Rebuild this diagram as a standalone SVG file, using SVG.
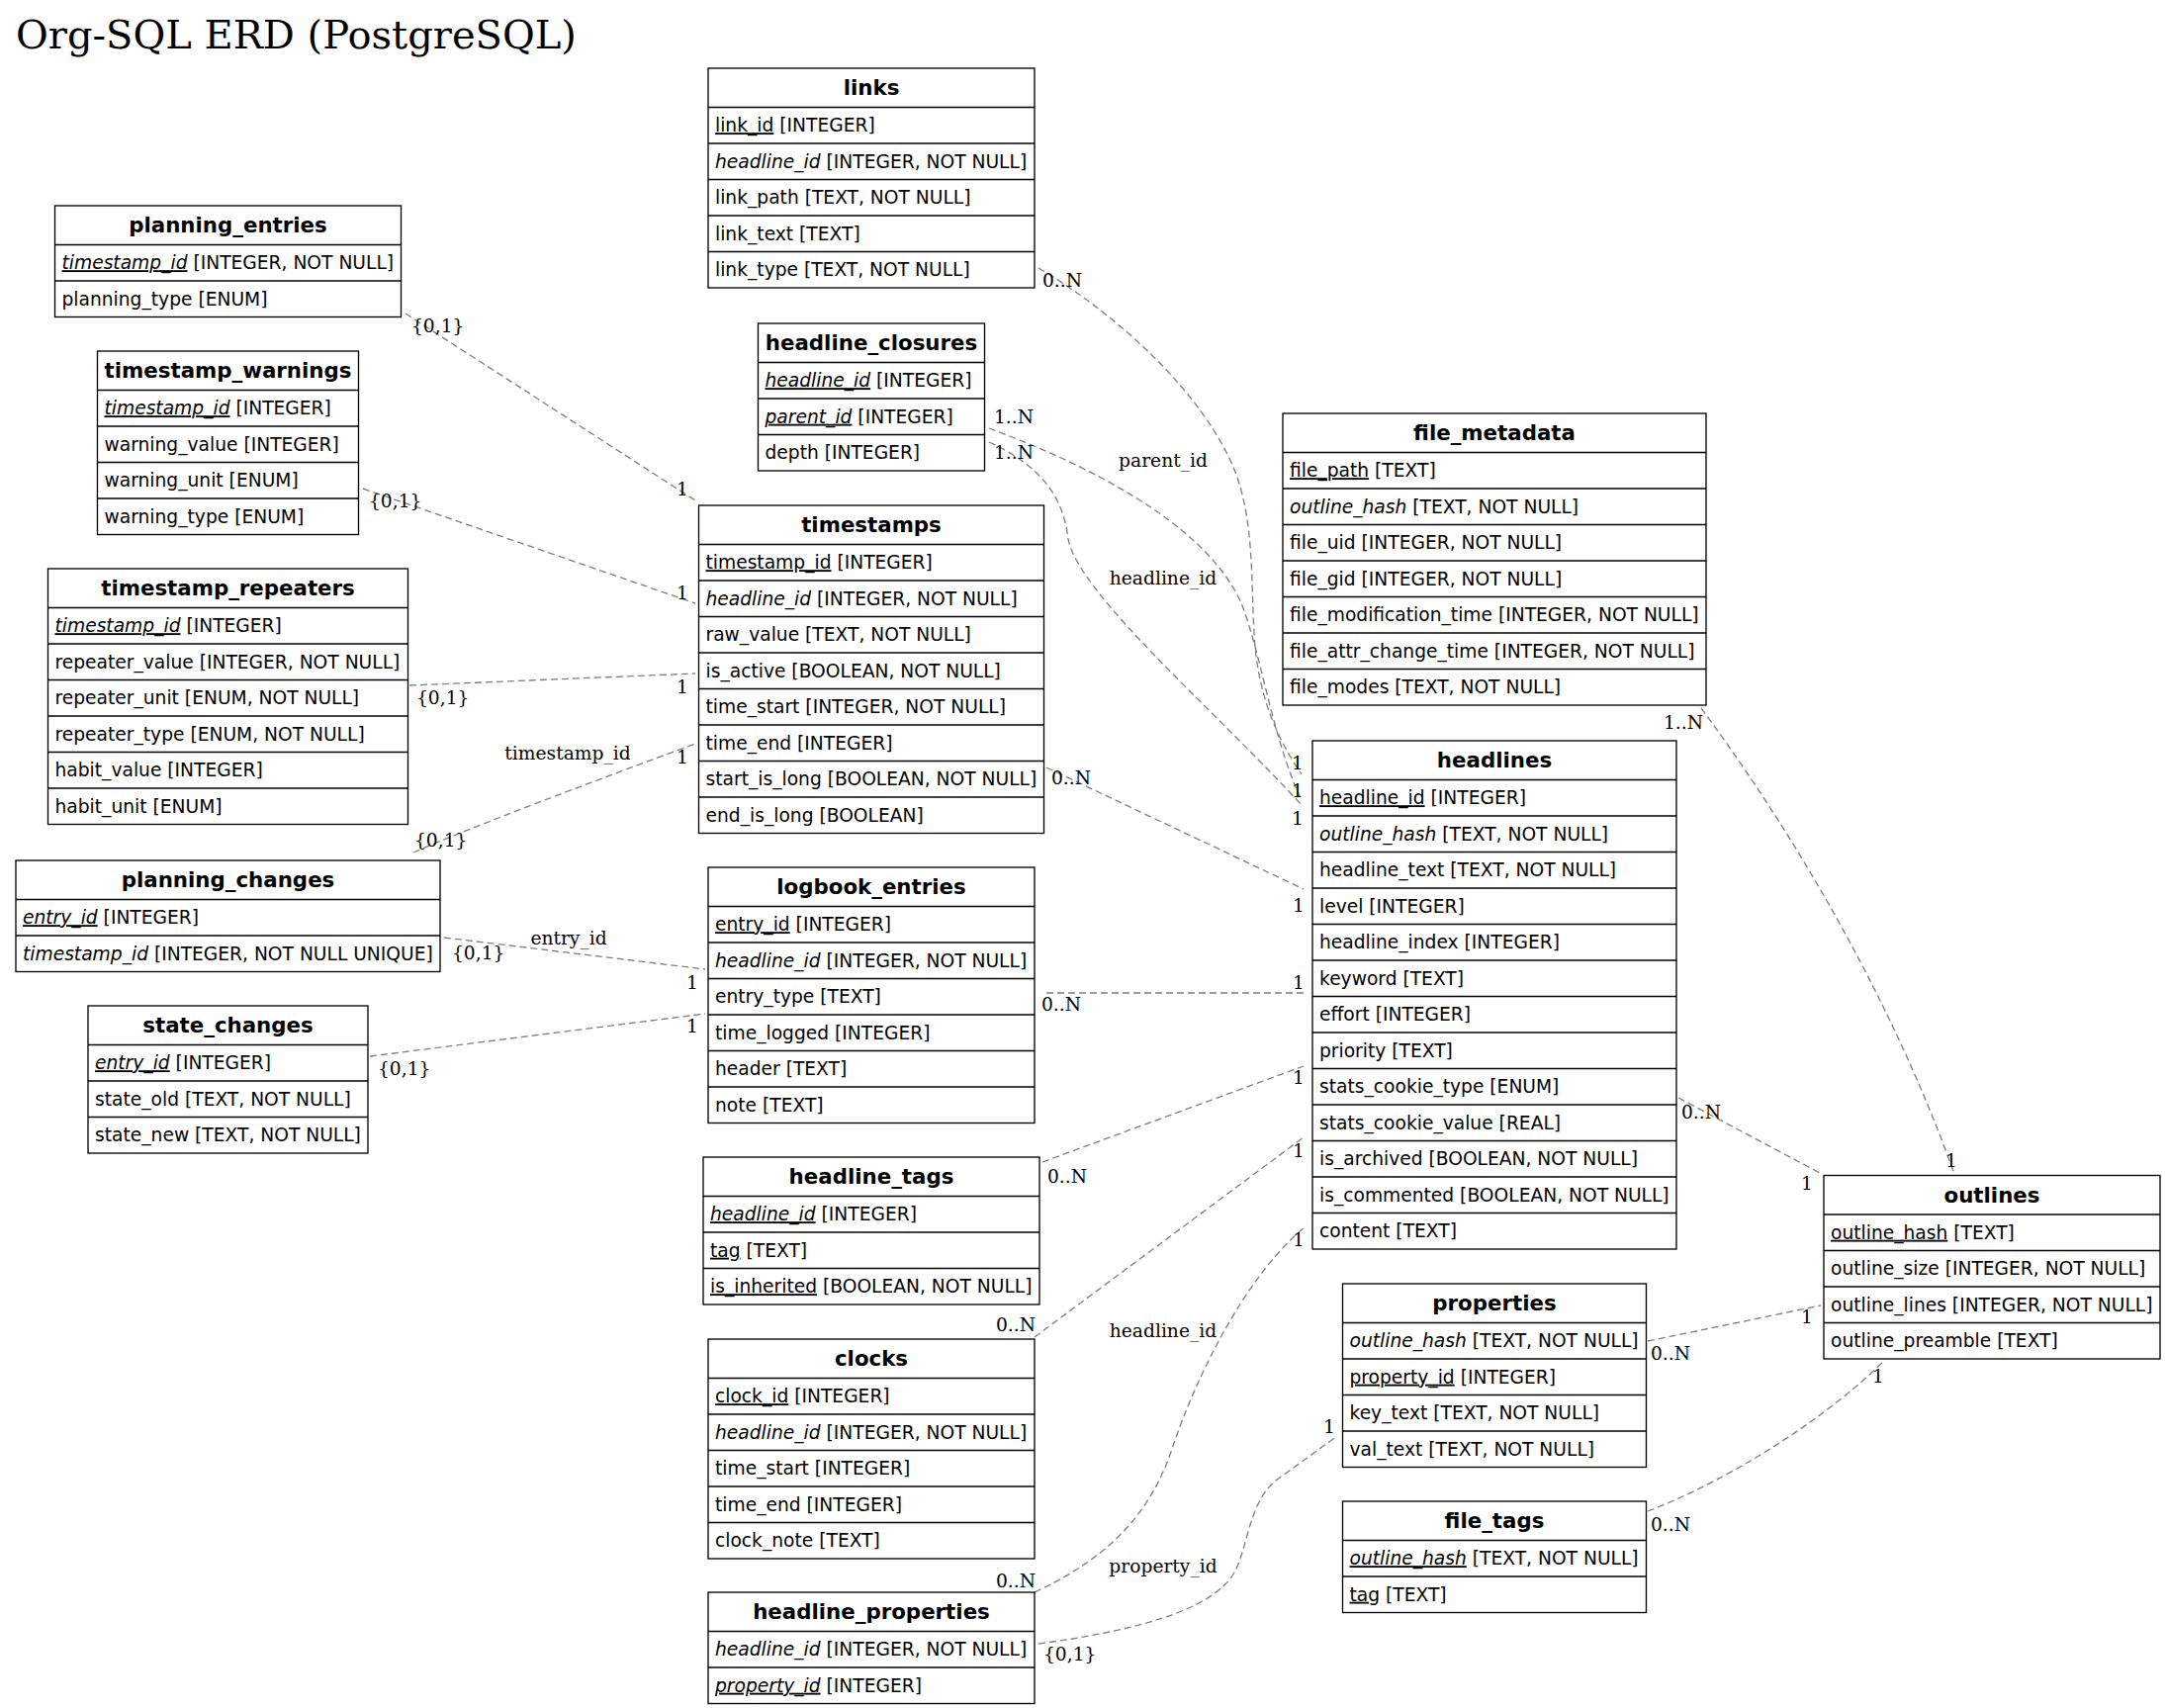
<svg xmlns="http://www.w3.org/2000/svg" width="2189" height="1727" viewBox="0 0 2189 1727">
<style>
.tb rect{fill:#fff;stroke:#000;stroke-width:1.33}
.tb line{stroke:#000;stroke-width:1.33}
.hd{font-family:"DejaVu Sans",sans-serif;font-weight:bold;font-size:21.33px;text-anchor:middle;fill:#000}
.fd{font-family:"DejaVu Sans",sans-serif;font-size:18.67px;fill:#000}
.i{font-style:italic}
.u{text-decoration:underline}
.ed path{fill:none;stroke:#808080;stroke-width:1.33;stroke-dasharray:7,4}
.lb{font-family:"DejaVu Serif",serif;font-size:18.67px;fill:#000}
.c{text-anchor:middle}
.title{font-family:"DejaVu Serif",serif;font-size:40px;fill:#000}
</style>
<rect width="2189" height="1727" fill="#fff"/>
<text class="title" x="16" y="49">Org-SQL ERD (PostgreSQL)</text>

<g id="connectors" class="ed">
<path d="M410,317 L703,506"/>
<path d="M367,494 L703,610"/>
<path d="M414,693 L703,681"/>
<path d="M418,862 C480,835 600,790 703,752"/>
<path d="M449,948 L713,980"/>
<path d="M374,1068 L713,1025"/>
<path d="M1050,271 C1130,318 1220,400 1250,480 C1268,530 1265,590 1268,640 C1271,700 1290,745 1316,783"/>
<path d="M1000,433 C1100,470 1220,530 1255,610 C1275,660 1285,740 1314,805"/>
<path d="M1000,447 C1050,470 1075,500 1080,545 C1090,600 1230,720 1317,815"/>
<path d="M1058,776 L1318,899"/>
<path d="M1058,1004 L1318,1004"/>
<path d="M1054,1175 L1318,1078"/>
<path d="M1046,1352 L1318,1150"/>
<path d="M1046,1610 C1110,1580 1160,1540 1185,1465 C1210,1390 1260,1290 1318,1242"/>
<path d="M1050,1662 C1140,1650 1225,1630 1248,1590 C1262,1565 1262,1520 1290,1497 L1352,1452"/>
<path d="M1720,716 C1820,851 1916,1019 1976,1187"/>
<path d="M1697,1110 L1840,1186"/>
<path d="M1666,1356 L1841,1320"/>
<path d="M1666,1528 C1740,1500 1840,1440 1905,1376"/>
</g>

<g id="edge-labels">
<text class="lb" x="416" y="336">{0,1}</text>
<text class="lb" x="684" y="501">1</text>
<text class="lb" x="373" y="513">{0,1}</text>
<text class="lb" x="684" y="606">1</text>
<text class="lb" x="421" y="712">{0,1}</text>
<text class="lb" x="684" y="701">1</text>
<text class="lb c" x="574" y="768">timestamp_id</text>
<text class="lb" x="419" y="856">{0,1}</text>
<text class="lb" x="684" y="772">1</text>
<text class="lb c" x="575" y="955">entry_id</text>
<text class="lb" x="457" y="970">{0,1}</text>
<text class="lb" x="694" y="1000">1</text>
<text class="lb" x="382" y="1087">{0,1}</text>
<text class="lb" x="694" y="1044">1</text>
<text class="lb" x="1054" y="290">0..N</text>
<text class="lb" x="1306" y="778">1</text>
<text class="lb c" x="1176" y="472">parent_id</text>
<text class="lb" x="1005" y="428">1..N</text>
<text class="lb" x="1306" y="806">1</text>
<text class="lb c" x="1176" y="591">headline_id</text>
<text class="lb" x="1005" y="464">1..N</text>
<text class="lb" x="1306" y="834">1</text>
<text class="lb" x="1063" y="793">0..N</text>
<text class="lb" x="1307" y="922">1</text>
<text class="lb" x="1053" y="1022">0..N</text>
<text class="lb" x="1307" y="1000">1</text>
<text class="lb" x="1059" y="1196">0..N</text>
<text class="lb" x="1307" y="1096">1</text>
<text class="lb" x="1007" y="1346">0..N</text>
<text class="lb" x="1307" y="1170">1</text>
<text class="lb c" x="1176" y="1352">headline_id</text>
<text class="lb" x="1007" y="1605">0..N</text>
<text class="lb" x="1307" y="1260">1</text>
<text class="lb c" x="1176" y="1590">property_id</text>
<text class="lb" x="1055" y="1679">{0,1}</text>
<text class="lb" x="1338" y="1449">1</text>
<text class="lb" x="1682" y="737">1..N</text>
<text class="lb" x="1967" y="1180">1</text>
<text class="lb" x="1700" y="1131">0..N</text>
<text class="lb" x="1821" y="1203">1</text>
<text class="lb" x="1669" y="1375">0..N</text>
<text class="lb" x="1821" y="1338">1</text>
<text class="lb" x="1669" y="1548">0..N</text>
<text class="lb" x="1893" y="1398">1</text>
</g>

<g id="planning_entries" class="tb" transform="translate(55.5,208)">
<rect width="350" height="112.5"/>
<line x1="0" y1="39.5" x2="350" y2="39.5"/><line x1="0" y1="76" x2="350" y2="76"/>
<text class="hd" x="175" y="27.2">planning_entries</text>
<text class="fd" x="7" y="64.2"><tspan class="i u">timestamp_id</tspan> [INTEGER, NOT NULL]</text>
<text class="fd" x="7" y="100.7">planning_type [ENUM]</text>
</g>

<g id="timestamp_warnings" class="tb" transform="translate(98.5,355)">
<rect width="264" height="185.5"/>
<line x1="0" y1="39.5" x2="264" y2="39.5"/><line x1="0" y1="76" x2="264" y2="76"/><line x1="0" y1="112.5" x2="264" y2="112.5"/><line x1="0" y1="149" x2="264" y2="149"/>
<text class="hd" x="132" y="27.2">timestamp_warnings</text>
<text class="fd" x="7" y="64.2"><tspan class="i u">timestamp_id</tspan> [INTEGER]</text>
<text class="fd" x="7" y="100.7">warning_value [INTEGER]</text>
<text class="fd" x="7" y="137.2">warning_unit [ENUM]</text>
<text class="fd" x="7" y="173.7">warning_type [ENUM]</text>
</g>

<g id="timestamp_repeaters" class="tb" transform="translate(48.5,575)">
<rect width="364" height="258.5"/>
<line x1="0" y1="39.5" x2="364" y2="39.5"/><line x1="0" y1="76" x2="364" y2="76"/><line x1="0" y1="112.5" x2="364" y2="112.5"/><line x1="0" y1="149" x2="364" y2="149"/><line x1="0" y1="185.5" x2="364" y2="185.5"/><line x1="0" y1="222" x2="364" y2="222"/>
<text class="hd" x="182" y="27.2">timestamp_repeaters</text>
<text class="fd" x="7" y="64.2"><tspan class="i u">timestamp_id</tspan> [INTEGER]</text>
<text class="fd" x="7" y="100.7">repeater_value [INTEGER, NOT NULL]</text>
<text class="fd" x="7" y="137.2">repeater_unit [ENUM, NOT NULL]</text>
<text class="fd" x="7" y="173.7">repeater_type [ENUM, NOT NULL]</text>
<text class="fd" x="7" y="210.2">habit_value [INTEGER]</text>
<text class="fd" x="7" y="246.7">habit_unit [ENUM]</text>
</g>

<g id="planning_changes" class="tb" transform="translate(16,870)">
<rect width="429" height="112.5"/>
<line x1="0" y1="39.5" x2="429" y2="39.5"/><line x1="0" y1="76" x2="429" y2="76"/>
<text class="hd" x="214.5" y="27.2">planning_changes</text>
<text class="fd" x="7" y="64.2"><tspan class="i u">entry_id</tspan> [INTEGER]</text>
<text class="fd" x="7" y="100.7"><tspan class="i">timestamp_id</tspan> [INTEGER, NOT NULL UNIQUE]</text>
</g>

<g id="state_changes" class="tb" transform="translate(89,1017)">
<rect width="283" height="149"/>
<line x1="0" y1="39.5" x2="283" y2="39.5"/><line x1="0" y1="76" x2="283" y2="76"/><line x1="0" y1="112.5" x2="283" y2="112.5"/>
<text class="hd" x="141.5" y="27.2">state_changes</text>
<text class="fd" x="7" y="64.2"><tspan class="i u">entry_id</tspan> [INTEGER]</text>
<text class="fd" x="7" y="100.7">state_old [TEXT, NOT NULL]</text>
<text class="fd" x="7" y="137.2">state_new [TEXT, NOT NULL]</text>
</g>

<g id="links" class="tb" transform="translate(716,69)">
<rect width="330" height="222"/>
<line x1="0" y1="39.5" x2="330" y2="39.5"/><line x1="0" y1="76" x2="330" y2="76"/><line x1="0" y1="112.5" x2="330" y2="112.5"/><line x1="0" y1="149" x2="330" y2="149"/><line x1="0" y1="185.5" x2="330" y2="185.5"/>
<text class="hd" x="165" y="27.2">links</text>
<text class="fd" x="7" y="64.2"><tspan class="u">link_id</tspan> [INTEGER]</text>
<text class="fd" x="7" y="100.7"><tspan class="i">headline_id</tspan> [INTEGER, NOT NULL]</text>
<text class="fd" x="7" y="137.2">link_path [TEXT, NOT NULL]</text>
<text class="fd" x="7" y="173.7">link_text [TEXT]</text>
<text class="fd" x="7" y="210.2">link_type [TEXT, NOT NULL]</text>
</g>

<g id="headline_closures" class="tb" transform="translate(766.5,327)">
<rect width="229" height="149"/>
<line x1="0" y1="39.5" x2="229" y2="39.5"/><line x1="0" y1="76" x2="229" y2="76"/><line x1="0" y1="112.5" x2="229" y2="112.5"/>
<text class="hd" x="114.5" y="27.2">headline_closures</text>
<text class="fd" x="7" y="64.2"><tspan class="i u">headline_id</tspan> [INTEGER]</text>
<text class="fd" x="7" y="100.7"><tspan class="i u">parent_id</tspan> [INTEGER]</text>
<text class="fd" x="7" y="137.2">depth [INTEGER]</text>
</g>

<g id="timestamps" class="tb" transform="translate(706.5,511)">
<rect width="349" height="331.5"/>
<line x1="0" y1="39.5" x2="349" y2="39.5"/><line x1="0" y1="76" x2="349" y2="76"/><line x1="0" y1="112.5" x2="349" y2="112.5"/><line x1="0" y1="149" x2="349" y2="149"/><line x1="0" y1="185.5" x2="349" y2="185.5"/><line x1="0" y1="222" x2="349" y2="222"/><line x1="0" y1="258.5" x2="349" y2="258.5"/><line x1="0" y1="295" x2="349" y2="295"/>
<text class="hd" x="174.5" y="27.2">timestamps</text>
<text class="fd" x="7" y="64.2"><tspan class="u">timestamp_id</tspan> [INTEGER]</text>
<text class="fd" x="7" y="100.7"><tspan class="i">headline_id</tspan> [INTEGER, NOT NULL]</text>
<text class="fd" x="7" y="137.2">raw_value [TEXT, NOT NULL]</text>
<text class="fd" x="7" y="173.7">is_active [BOOLEAN, NOT NULL]</text>
<text class="fd" x="7" y="210.2">time_start [INTEGER, NOT NULL]</text>
<text class="fd" x="7" y="246.7">time_end [INTEGER]</text>
<text class="fd" x="7" y="283.2">start_is_long [BOOLEAN, NOT NULL]</text>
<text class="fd" x="7" y="319.7">end_is_long [BOOLEAN]</text>
</g>

<g id="logbook_entries" class="tb" transform="translate(716,877)">
<rect width="330" height="258.5"/>
<line x1="0" y1="39.5" x2="330" y2="39.5"/><line x1="0" y1="76" x2="330" y2="76"/><line x1="0" y1="112.5" x2="330" y2="112.5"/><line x1="0" y1="149" x2="330" y2="149"/><line x1="0" y1="185.5" x2="330" y2="185.5"/><line x1="0" y1="222" x2="330" y2="222"/>
<text class="hd" x="165" y="27.2">logbook_entries</text>
<text class="fd" x="7" y="64.2"><tspan class="u">entry_id</tspan> [INTEGER]</text>
<text class="fd" x="7" y="100.7"><tspan class="i">headline_id</tspan> [INTEGER, NOT NULL]</text>
<text class="fd" x="7" y="137.2">entry_type [TEXT]</text>
<text class="fd" x="7" y="173.7">time_logged [INTEGER]</text>
<text class="fd" x="7" y="210.2">header [TEXT]</text>
<text class="fd" x="7" y="246.7">note [TEXT]</text>
</g>

<g id="headline_tags" class="tb" transform="translate(711,1170)">
<rect width="340" height="149"/>
<line x1="0" y1="39.5" x2="340" y2="39.5"/><line x1="0" y1="76" x2="340" y2="76"/><line x1="0" y1="112.5" x2="340" y2="112.5"/>
<text class="hd" x="170" y="27.2">headline_tags</text>
<text class="fd" x="7" y="64.2"><tspan class="i u">headline_id</tspan> [INTEGER]</text>
<text class="fd" x="7" y="100.7"><tspan class="u">tag</tspan> [TEXT]</text>
<text class="fd" x="7" y="137.2"><tspan class="u">is_inherited</tspan> [BOOLEAN, NOT NULL]</text>
</g>

<g id="clocks" class="tb" transform="translate(716,1354)">
<rect width="330" height="222"/>
<line x1="0" y1="39.5" x2="330" y2="39.5"/><line x1="0" y1="76" x2="330" y2="76"/><line x1="0" y1="112.5" x2="330" y2="112.5"/><line x1="0" y1="149" x2="330" y2="149"/><line x1="0" y1="185.5" x2="330" y2="185.5"/>
<text class="hd" x="165" y="27.2">clocks</text>
<text class="fd" x="7" y="64.2"><tspan class="u">clock_id</tspan> [INTEGER]</text>
<text class="fd" x="7" y="100.7"><tspan class="i">headline_id</tspan> [INTEGER, NOT NULL]</text>
<text class="fd" x="7" y="137.2">time_start [INTEGER]</text>
<text class="fd" x="7" y="173.7">time_end [INTEGER]</text>
<text class="fd" x="7" y="210.2">clock_note [TEXT]</text>
</g>

<g id="headline_properties" class="tb" transform="translate(716,1610)">
<rect width="330" height="112.5"/>
<line x1="0" y1="39.5" x2="330" y2="39.5"/><line x1="0" y1="76" x2="330" y2="76"/>
<text class="hd" x="165" y="27.2">headline_properties</text>
<text class="fd" x="7" y="64.2"><tspan class="i">headline_id</tspan> [INTEGER, NOT NULL]</text>
<text class="fd" x="7" y="100.7"><tspan class="i u">property_id</tspan> [INTEGER]</text>
</g>

<g id="file_metadata" class="tb" transform="translate(1297,418)">
<rect width="428" height="295"/>
<line x1="0" y1="39.5" x2="428" y2="39.5"/><line x1="0" y1="76" x2="428" y2="76"/><line x1="0" y1="112.5" x2="428" y2="112.5"/><line x1="0" y1="149" x2="428" y2="149"/><line x1="0" y1="185.5" x2="428" y2="185.5"/><line x1="0" y1="222" x2="428" y2="222"/><line x1="0" y1="258.5" x2="428" y2="258.5"/>
<text class="hd" x="214" y="27.2">file_metadata</text>
<text class="fd" x="7" y="64.2"><tspan class="u">file_path</tspan> [TEXT]</text>
<text class="fd" x="7" y="100.7"><tspan class="i">outline_hash</tspan> [TEXT, NOT NULL]</text>
<text class="fd" x="7" y="137.2">file_uid [INTEGER, NOT NULL]</text>
<text class="fd" x="7" y="173.7">file_gid [INTEGER, NOT NULL]</text>
<text class="fd" x="7" y="210.2">file_modification_time [INTEGER, NOT NULL]</text>
<text class="fd" x="7" y="246.7">file_attr_change_time [INTEGER, NOT NULL]</text>
<text class="fd" x="7" y="283.2">file_modes [TEXT, NOT NULL]</text>
</g>

<g id="headlines" class="tb" transform="translate(1327,749)">
<rect width="368" height="514"/>
<line x1="0" y1="39.5" x2="368" y2="39.5"/><line x1="0" y1="76" x2="368" y2="76"/><line x1="0" y1="112.5" x2="368" y2="112.5"/><line x1="0" y1="149" x2="368" y2="149"/><line x1="0" y1="185.5" x2="368" y2="185.5"/><line x1="0" y1="222" x2="368" y2="222"/><line x1="0" y1="258.5" x2="368" y2="258.5"/><line x1="0" y1="295" x2="368" y2="295"/><line x1="0" y1="331.5" x2="368" y2="331.5"/><line x1="0" y1="368" x2="368" y2="368"/><line x1="0" y1="404.5" x2="368" y2="404.5"/><line x1="0" y1="441" x2="368" y2="441"/><line x1="0" y1="477.5" x2="368" y2="477.5"/>
<text class="hd" x="184" y="27.2">headlines</text>
<text class="fd" x="7" y="64.2"><tspan class="u">headline_id</tspan> [INTEGER]</text>
<text class="fd" x="7" y="100.7"><tspan class="i">outline_hash</tspan> [TEXT, NOT NULL]</text>
<text class="fd" x="7" y="137.2">headline_text [TEXT, NOT NULL]</text>
<text class="fd" x="7" y="173.7">level [INTEGER]</text>
<text class="fd" x="7" y="210.2">headline_index [INTEGER]</text>
<text class="fd" x="7" y="246.7">keyword [TEXT]</text>
<text class="fd" x="7" y="283.2">effort [INTEGER]</text>
<text class="fd" x="7" y="319.7">priority [TEXT]</text>
<text class="fd" x="7" y="356.2">stats_cookie_type [ENUM]</text>
<text class="fd" x="7" y="392.7">stats_cookie_value [REAL]</text>
<text class="fd" x="7" y="429.2">is_archived [BOOLEAN, NOT NULL]</text>
<text class="fd" x="7" y="465.7">is_commented [BOOLEAN, NOT NULL]</text>
<text class="fd" x="7" y="502.2">content [TEXT]</text>
</g>

<g id="properties" class="tb" transform="translate(1357.5,1298)">
<rect width="307" height="185.5"/>
<line x1="0" y1="39.5" x2="307" y2="39.5"/><line x1="0" y1="76" x2="307" y2="76"/><line x1="0" y1="112.5" x2="307" y2="112.5"/><line x1="0" y1="149" x2="307" y2="149"/>
<text class="hd" x="153.5" y="27.2">properties</text>
<text class="fd" x="7" y="64.2"><tspan class="i">outline_hash</tspan> [TEXT, NOT NULL]</text>
<text class="fd" x="7" y="100.7"><tspan class="u">property_id</tspan> [INTEGER]</text>
<text class="fd" x="7" y="137.2">key_text [TEXT, NOT NULL]</text>
<text class="fd" x="7" y="173.7">val_text [TEXT, NOT NULL]</text>
</g>

<g id="file_tags" class="tb" transform="translate(1357.5,1518)">
<rect width="307" height="112.5"/>
<line x1="0" y1="39.5" x2="307" y2="39.5"/><line x1="0" y1="76" x2="307" y2="76"/>
<text class="hd" x="153.5" y="27.2">file_tags</text>
<text class="fd" x="7" y="64.2"><tspan class="i u">outline_hash</tspan> [TEXT, NOT NULL]</text>
<text class="fd" x="7" y="100.7"><tspan class="u">tag</tspan> [TEXT]</text>
</g>

<g id="outlines" class="tb" transform="translate(1844,1188.5)">
<rect width="340" height="185.5"/>
<line x1="0" y1="39.5" x2="340" y2="39.5"/><line x1="0" y1="76" x2="340" y2="76"/><line x1="0" y1="112.5" x2="340" y2="112.5"/><line x1="0" y1="149" x2="340" y2="149"/>
<text class="hd" x="170" y="27.2">outlines</text>
<text class="fd" x="7" y="64.2"><tspan class="u">outline_hash</tspan> [TEXT]</text>
<text class="fd" x="7" y="100.7">outline_size [INTEGER, NOT NULL]</text>
<text class="fd" x="7" y="137.2">outline_lines [INTEGER, NOT NULL]</text>
<text class="fd" x="7" y="173.7">outline_preamble [TEXT]</text>
</g>
</svg>
